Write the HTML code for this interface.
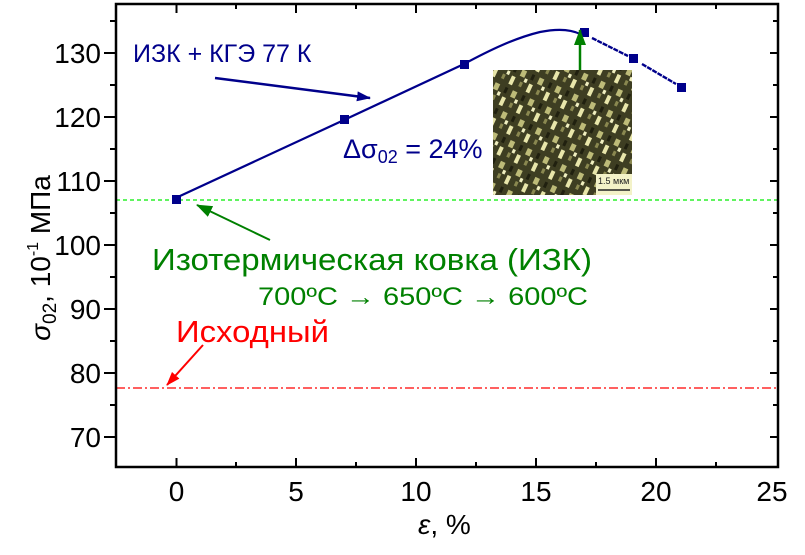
<!DOCTYPE html>
<html><head><meta charset="utf-8"><style>
body{margin:0;background:#fff}
svg text{font-family:"Liberation Sans",Arial,sans-serif}
</style></head><body>
<svg width="805" height="550" viewBox="0 0 805 550" xmlns="http://www.w3.org/2000/svg">
<defs>
<marker id="ab" markerWidth="14" markerHeight="10" refX="13" refY="5" orient="auto" markerUnits="userSpaceOnUse"><path d="M0,0 L14,5 L0,10 Z" fill="#00008b"/></marker>
<marker id="ag" markerWidth="16" markerHeight="12" refX="15" refY="6" orient="auto" markerUnits="userSpaceOnUse"><path d="M0,0 L16,6 L0,12 Z" fill="#008000"/></marker>
<marker id="ar" markerWidth="14" markerHeight="10" refX="13" refY="5" orient="auto" markerUnits="userSpaceOnUse"><path d="M0,0 L14,5 L0,10 Z" fill="#ff0000"/></marker>
<pattern id="tex" width="23" height="19" patternUnits="userSpaceOnUse" patternTransform="rotate(-65)">
<rect width="23" height="19" fill="#3e3e22"/>
<rect x="1" y="2" width="9" height="4" fill="#e8e6aa"/>
<rect x="13" y="9" width="7" height="5" fill="#bdbb78"/>
<rect x="3" y="12" width="5" height="3" fill="#8a8850"/>
<rect x="14" y="1" width="6" height="3" fill="#20200f"/>
<rect x="9" y="15" width="4" height="3" fill="#f0efc0"/>
</pattern>
</defs>
<line x1="116" y1="200" x2="778" y2="200" stroke="#00ee00" stroke-width="1.3" stroke-dasharray="4,3"/>
<line x1="116" y1="388" x2="778" y2="388" stroke="#ff0000" stroke-width="1.3" stroke-dasharray="9,3,2,3"/>
<path d="M180,196 L344,120 L464,64 C490,50 515,38 540,32 C560,28 572,30 580,34" fill="none" stroke="#00008b" stroke-width="2.2"/>
<path d="M592,38 L628,56 M642,64 L676,84" fill="none" stroke="#00008b" stroke-width="2.4" stroke-dasharray="5,1"/>
<g fill="#00008b">
<rect x="172" y="195" width="9" height="9"/>
<rect x="340" y="115" width="9" height="9"/>
<rect x="460" y="60" width="9" height="9"/>
<rect x="580" y="28" width="9" height="9"/>
<rect x="629" y="54" width="9" height="9"/>
<rect x="677" y="83" width="9" height="9"/>
</g>
<rect x="493" y="70" width="139" height="125" fill="url(#tex)"/>
<rect x="596" y="174" width="36" height="21" fill="#f3f2c8"/>
<text x="598" y="184" font-size="9" font-family="Liberation Serif,serif" fill="#222">1.5 мкм</text>
<line x1="598" y1="190" x2="630" y2="190" stroke="#222" stroke-width="1.5"/>
<line x1="580" y1="70" x2="580" y2="30" stroke="#008000" stroke-width="2.5" marker-end="url(#ag)"/>
<line x1="270" y1="240" x2="197" y2="205" stroke="#008000" stroke-width="2" marker-end="url(#ag)"/>
<line x1="203" y1="345" x2="167" y2="385" stroke="#ff0000" stroke-width="2" marker-end="url(#ar)"/>
<line x1="215" y1="78" x2="370" y2="98" stroke="#00008b" stroke-width="2.5" marker-end="url(#ab)"/>
<rect x="116" y="4" width="662" height="463" fill="none" stroke="#000" stroke-width="2.5"/>
<g stroke="#000" stroke-width="2">
<line x1="104" y1="53" x2="116" y2="53"/><line x1="104" y1="117" x2="116" y2="117"/><line x1="104" y1="181" x2="116" y2="181"/><line x1="104" y1="245" x2="116" y2="245"/><line x1="104" y1="309" x2="116" y2="309"/><line x1="104" y1="373" x2="116" y2="373"/><line x1="104" y1="437" x2="116" y2="437"/>
<line x1="110" y1="21" x2="116" y2="21"/><line x1="110" y1="85" x2="116" y2="85"/><line x1="110" y1="149" x2="116" y2="149"/><line x1="110" y1="213" x2="116" y2="213"/><line x1="110" y1="277" x2="116" y2="277"/><line x1="110" y1="341" x2="116" y2="341"/><line x1="110" y1="405" x2="116" y2="405"/>
<line x1="778" y1="53" x2="770" y2="53"/><line x1="778" y1="117" x2="770" y2="117"/><line x1="778" y1="181" x2="770" y2="181"/><line x1="778" y1="245" x2="770" y2="245"/><line x1="778" y1="309" x2="770" y2="309"/><line x1="778" y1="373" x2="770" y2="373"/><line x1="778" y1="437" x2="770" y2="437"/>
<line x1="778" y1="21" x2="773" y2="21"/><line x1="778" y1="85" x2="773" y2="85"/><line x1="778" y1="149" x2="773" y2="149"/><line x1="778" y1="213" x2="773" y2="213"/><line x1="778" y1="277" x2="773" y2="277"/><line x1="778" y1="341" x2="773" y2="341"/><line x1="778" y1="405" x2="773" y2="405"/>
<line x1="176.5" y1="467" x2="176.5" y2="458"/><line x1="296" y1="467" x2="296" y2="458"/><line x1="416" y1="467" x2="416" y2="458"/><line x1="536" y1="467" x2="536" y2="458"/><line x1="656" y1="467" x2="656" y2="458"/>
<line x1="236" y1="467" x2="236" y2="462"/><line x1="356" y1="467" x2="356" y2="462"/><line x1="476" y1="467" x2="476" y2="462"/><line x1="596" y1="467" x2="596" y2="462"/><line x1="716" y1="467" x2="716" y2="462"/>
<line x1="176.5" y1="4" x2="176.5" y2="13"/><line x1="296" y1="4" x2="296" y2="13"/><line x1="416" y1="4" x2="416" y2="13"/><line x1="536" y1="4" x2="536" y2="13"/><line x1="656" y1="4" x2="656" y2="13"/>
<line x1="236" y1="4" x2="236" y2="9"/><line x1="356" y1="4" x2="356" y2="9"/><line x1="476" y1="4" x2="476" y2="9"/><line x1="596" y1="4" x2="596" y2="9"/><line x1="716" y1="4" x2="716" y2="9"/>
</g>
<g font-size="28" text-anchor="end" fill="#000">
<text x="101" y="63">130</text><text x="101" y="127">120</text><text x="101" y="191">110</text><text x="101" y="255">100</text><text x="101" y="319">90</text><text x="101" y="383">80</text><text x="101" y="447">70</text>
</g>
<g font-size="28" text-anchor="middle" fill="#000">
<text x="176.5" y="501">0</text><text x="296" y="501">5</text><text x="416" y="501">10</text><text x="536" y="501">15</text><text x="656" y="501">20</text><text x="772" y="501">25</text>
</g>
<text x="418" y="534" font-size="28"><tspan font-style="italic">ε</tspan>, %</text>
<text transform="translate(50,258) rotate(-90)" font-size="28" text-anchor="middle"><tspan font-style="italic">σ</tspan><tspan font-size="19" dy="6">02</tspan><tspan dy="-6">, 10</tspan><tspan font-size="16" dy="-12">-1</tspan><tspan dy="12"> МПа</tspan></text>
<text x="133" y="62" font-size="25" fill="#00008b">ИЗК + КГЭ  77 К</text>
<text x="343" y="158" font-size="27" fill="#00008b">Δσ<tspan font-size="18" dy="5">02</tspan><tspan dy="-5"> = 24%</tspan></text>
<text x="152" y="270" font-size="31" fill="#008000" textLength="440" lengthAdjust="spacingAndGlyphs">Изотермическая ковка (ИЗК)</text>
<text x="258" y="305" font-size="25" fill="#008000" textLength="330" lengthAdjust="spacingAndGlyphs">700ºC → 650ºC → 600ºC</text>
<text x="176" y="342" font-size="31" fill="#ff0000" textLength="153" lengthAdjust="spacingAndGlyphs">Исходный</text>
</svg>
</body></html>
